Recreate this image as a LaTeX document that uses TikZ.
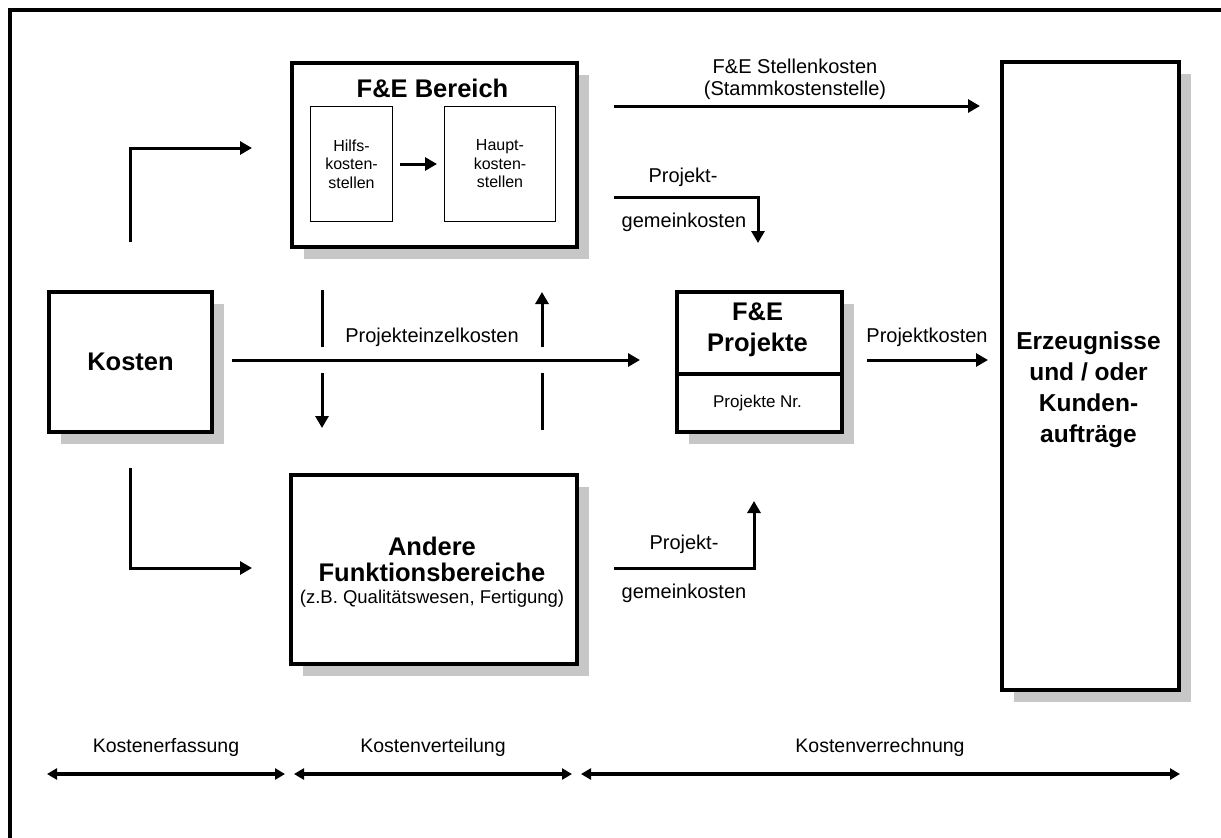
\documentclass[tikz,border=0pt]{standalone}
\usepackage{fontspec}
\setmainfont{Liberation Sans}
\usetikzlibrary{arrows.meta,shadows}

\tikzset{
  box/.style={draw, line width=4pt, fill=white, anchor=north west, inner sep=0pt,
    drop shadow={shadow xshift=12pt, shadow yshift=-12pt, fill=black!22, opacity=1}},
  subbox/.style={draw, line width=1pt, fill=white, anchor=north west, inner sep=0pt,
    align=center, font=\fontsize{16}{18.5}\selectfont},
  flow/.style={line width=3pt, -{Triangle[length=12pt,width=13pt]}},
  bar/.style={line width=3pt},
  span/.style={line width=4pt,
    {Triangle[length=10pt,width=11pt]}-{Triangle[length=10pt,width=11pt]}},
  lbl/.style={anchor=base, inner sep=0pt, font=\fontsize{20}{24}\selectfont},
  phase/.style={anchor=base, inner sep=0pt, font=\fontsize{19.5}{23}\selectfont},
  head/.style={anchor=base, inner sep=0pt, font=\bfseries\fontsize{25.5}{30}\selectfont},
  headsm/.style={anchor=base, inner sep=0pt, font=\bfseries\fontsize{24.5}{30}\selectfont},
}

\begin{document}
\begin{tikzpicture}[x=1pt, y=-1pt]
\useasboundingbox (0,0) rectangle (1221,838);

% outer frame
\draw[line width=4pt] (10,838) -- (10,10) -- (1221,10);

% boxes
\node[box, minimum width=163pt, minimum height=140pt,
      font=\bfseries\fontsize{25.5}{30}\selectfont] (kosten) at (47,290) {Kosten};
\node[box, minimum width=285pt, minimum height=184pt] (fe) at (290,61) {};
\node[head] (feT) at (432.5,97) {F\&E Bereich};
\node[subbox, minimum width=82pt, minimum height=115pt] (hilfs) at (310,106)
  {Hilfs-\\kosten-\\stellen};
\node[subbox, minimum width=111pt, minimum height=115pt] (haupt) at (444,106)
  {Haupt-\\kosten-\\stellen};
\draw[flow] ([xshift=7pt]hilfs.east) -- ([xshift=-7pt]haupt.west);

\node[box, minimum width=165pt, minimum height=140pt] (proj) at (675,290) {};
\draw[line width=4pt] (proj.west |- 0,374) -- (proj.east |- 0,374);
\node[head] (projA) at (757.5,320) {F\&E};
\node[head] (projB) at (757.5,351) {Projekte};
\node[anchor=base, inner sep=0pt, font=\fontsize{17}{20}\selectfont] (projNr)
  at (757.5,407) {Projekte Nr.};

\node[box, minimum width=286pt, minimum height=189pt] (andere) at (289,473) {};
\node[head] (andA) at (432,555) {Andere};
\node[head] (andB) at (432,581) {Funktionsbereiche};
\node[anchor=base, inner sep=0pt, font=\fontsize{18.5}{22}\selectfont] (andC)
  at (432,603) {(z.B. Qualitätswesen, Fertigung)};

\node[box, minimum width=177pt, minimum height=628pt] (erz) at (1000,60) {};
\node[headsm] (erzA) at (1088.5,349) {Erzeugnisse};
\node[headsm] (erzB) at (1088.5,380) {und / oder};
\node[headsm] (erzC) at (1088.5,411) {Kunden-};
\node[headsm] (erzD) at (1088.5,442) {aufträge};

% connector end points
\coordinate (t0) at (130,242);
\coordinate (t1) at (252,148);
\coordinate (b0) at (130,468);
\coordinate (b1) at (252,568);
\coordinate (h0) at (232,360);
\coordinate (h1) at (640,360);
\coordinate (va0) at (322,290);
\coordinate (va1) at (322,347);
\coordinate (vb0) at (322,373);
\coordinate (vb1) at (322,428);
\coordinate (vc0) at (542,347);
\coordinate (vc1) at (542,292);
\coordinate (vd0) at (542,373);
\coordinate (vd1) at (542,430);
\coordinate (s0) at (614,106);
\coordinate (s1) at (980,106);
\coordinate (g0) at (614,197);
\coordinate (g1) at (758,243);
\coordinate (u0) at (614,568);
\coordinate (u1) at (754,501);
\coordinate (k0) at (867,360);
\coordinate (k1) at (988,360);

% cost flows
\draw[flow] (t0) |- (t1);
\draw[flow] (b0) |- (b1);
\draw[flow] (h0) -- (h1);
\draw[bar] (va0) -- (va1);
\draw[flow] (vb0) -- (vb1);
\draw[flow] (vc0) -- (vc1);
\draw[bar] (vd0) -- (vd1);
\draw[flow] (s0) -- (s1);
\draw[flow] (g0) -| (g1);
\draw[flow] (u0) -| (u1);
\draw[flow] (k0) -- (k1);

% flow labels
\node[lbl] (lS1) at (795,73) {F\&E Stellenkosten};
\node[lbl] (lS2) at (795,95) {(Stammkostenstelle)};
\node[lbl] (lG1) at (683,182) {Projekt-};
\node[lbl] (lG2) at (684,227) {gemeinkosten};
\node[lbl] (lE) at (432,342) {Projekteinzelkosten};
\node[lbl] (lK) at (927,342) {Projektkosten};
\node[lbl] (lU1) at (684,549) {Projekt-};
\node[lbl] (lU2) at (684,598) {gemeinkosten};

% phases
\coordinate (p0) at (47,774);
\coordinate (p1) at (285,774);
\coordinate (p2) at (294,774);
\coordinate (p3) at (572,774);
\coordinate (p4) at (581,774);
\coordinate (p5) at (1180,774);
\draw[span] (p0) -- (p1);
\draw[span] (p2) -- (p3);
\draw[span] (p4) -- (p5);
\node[phase] (ph1) at (166,752) {Kostenerfassung};
\node[phase] (ph2) at (433,752) {Kostenverteilung};
\node[phase] (ph3) at (880,752) {Kostenverrechnung};
\end{tikzpicture}
\end{document}
